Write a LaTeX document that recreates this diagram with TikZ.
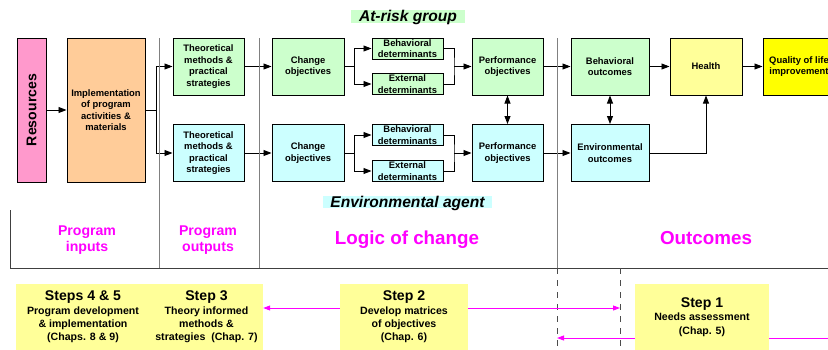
\documentclass[tikz,border=0pt]{standalone}
\usepackage{fontspec}
\setmainfont{Liberation Sans}
\usetikzlibrary{arrows.meta}

\definecolor{pinkfill}{HTML}{FF99CC}
\definecolor{orangefill}{HTML}{FFCC99}
\definecolor{greenfill}{HTML}{CCFFCC}
\definecolor{cyanfill}{HTML}{CCFFFF}
\definecolor{paleyellow}{HTML}{FFFF99}
\definecolor{brightyellow}{HTML}{FFFF00}
\definecolor{phasepink}{HTML}{FF00FF}
\definecolor{divider}{HTML}{808080}

\begin{document}
\begin{tikzpicture}[x=1pt, y=-1pt,
  box/.style={draw, rectangle, line width=1pt, align=center, inner sep=1pt, font=\fontsize{9.4}{11.4}\selectfont\bfseries},
  bigbox/.style={box, minimum width=72pt, minimum height=57pt},
  detbox/.style={box, minimum width=71pt, minimum height=21pt},
  wire/.style={line width=0.9pt},
  flow/.style={wire, -{Triangle[length=8pt,width=6pt]}},
  both/.style={wire, {Triangle[length=8pt,width=6pt]}-{Triangle[length=8pt,width=6pt]}},
  stepbox/.style={fill=paleyellow, align=center, inner sep=0pt, minimum height=66pt, font=\fontsize{10.6}{13.3}\selectfont\bfseries},
  steparrow/.style={phasepink, line width=0.9pt, -{Triangle[length=7pt,width=5pt]}},
  phase/.style={text=phasepink, align=center, font=\fontsize{14.1}{16.7}\selectfont\bfseries},
  group/.style={inner xsep=8pt, inner ysep=0pt, anchor=base, font=\fontsize{15.6}{18}\selectfont\bfseries\itshape}]
\useasboundingbox (0,0) rectangle (828,349);
\clip (0,0) rectangle (828,349);

\node (resources) [box, fill=pinkfill, rotate=90, minimum width=144pt, minimum height=29pt, font=\fontsize{14.1}{16}\selectfont\bfseries] at (31.5,110) {Resources};
\node (impl) [box, fill=orangefill, minimum width=78pt, minimum height=144pt] at (106,110) {Implementation\\of program\\activities \&\\materials};
\node (theo1) [bigbox, fill=greenfill, minimum width=71pt] at (208.5,66.5) {Theoretical\\methods \&\\practical\\strategies};
\node (theo2) [bigbox, fill=cyanfill, minimum width=71pt] at (208.5,153) {Theoretical\\methods \&\\practical\\strategies};
\node (change1) [bigbox, fill=greenfill] at (308,66.5) {Change\\objectives};
\node (change2) [bigbox, fill=cyanfill] at (308,153) {Change\\objectives};
\node (beh1) [detbox, fill=greenfill] at (407.5,48.5) {Behavioral\\determinants};
\node (ext1) [detbox, fill=greenfill] at (407.5,84) {External\\determinants};
\node (beh2) [detbox, fill=cyanfill] at (407.5,135) {Behavioral\\determinants};
\node (ext2) [detbox, fill=cyanfill] at (407.5,171) {External\\determinants};
\node (perf1) [bigbox, fill=greenfill, minimum width=71pt] at (507.5,66.5) {Performance\\objectives};
\node (perf2) [bigbox, fill=cyanfill, minimum width=71pt] at (507.5,153) {Performance\\objectives};
\node (behout) [bigbox, fill=greenfill, minimum width=78pt] at (610,66.5) {Behavioral\\outcomes};
\node (envout) [bigbox, fill=cyanfill, minimum width=78pt] at (610,153) {Environmental\\outcomes};
\node (health) [bigbox, fill=paleyellow] at (706,66.5) {Health};
\node (quality) [bigbox, fill=brightyellow] at (799,66.5) {Quality of life\\improvement};

\draw[flow] (resources) -- (impl);
\draw[flow] (impl.east) -- ++(11,0) |- (theo1.west);
\draw[flow] (impl.east) -- ++(11,0) |- (theo2.west);
\draw[flow] (theo1) -- (change1);
\draw[flow] (theo2) -- (change2);
\draw[flow] (change1.east) -- ++(10,0) |- (beh1.west);
\draw[flow] (change1.east) -- ++(10,0) |- (ext1.west);
\draw[flow] (change2.east) -- ++(10,0) |- (beh2.west);
\draw[flow] (change2.east) -- ++(10,0) |- (ext2.west);
\coordinate (merge1) at (454,66.5);
\coordinate (merge2) at (454,153);
\draw[wire] (beh1.east) -| (merge1) |- (ext1.east);
\draw[wire] (beh2.east) -| (merge2) |- (ext2.east);
\draw[flow] (merge1) -- (perf1);
\draw[flow] (merge2) -- (perf2);
\draw[both] (perf1) -- (perf2);
\draw[flow] (perf1) -- (behout);
\draw[flow] (perf2) -- (envout);
\draw[both] (behout) -- (envout);
\draw[flow] (behout) -- (health);
\draw[flow] (health) -- (quality);
\draw[flow] (envout.east) -| (health.south);

\draw[divider, line width=1pt] (159,38) -- (159,268);
\draw[divider, line width=1pt] (259,38) -- (259,268);
\draw[divider, line width=1pt] (557,38) -- (557,268);
\draw[black!75, line width=1pt] (10,210) -- (10,268) -- (828,268);
\draw[black!70, line width=0.9pt, dash pattern=on 6pt off 6pt] (557,268) -- (557,349);
\draw[black!70, line width=0.9pt, dash pattern=on 6pt off 6pt] (620,268) -- (620,349);

\node (atrisk) [group, fill=greenfill, text height=11.5pt, text depth=1.5pt] at (408,21.5) {At-risk group};
\node (envagent) [group, fill=cyanfill, text height=11pt, text depth=1pt, inner xsep=7.5pt] at (407.5,207) {Environmental agent};

\node (inputs) [phase] at (87,240) {Program\\inputs};
\node (outputs) [phase] at (208,240) {Program\\outputs};
\node (logic) [phase, anchor=base, font=\fontsize{18.8}{22}\selectfont\bfseries] at (407,244) {Logic of change};
\node (outcomes) [phase, anchor=base, font=\fontsize{18.8}{22}\selectfont\bfseries] at (706,244) {Outcomes};

\node (step45) [stepbox, minimum width=134pt] at (83,317) {{\fontsize{14.1}{16}\selectfont Steps 4 \& 5}\\Program development\\\& implementation\\(Chaps. 8 \& 9)};
\node (step3) [stepbox, minimum width=113pt] at (206.5,317) {{\fontsize{14.1}{16}\selectfont Step 3}\\Theory informed\\methods \&\\strategies\ \ (Chap. 7)};
\node (step2) [stepbox, minimum width=128pt] at (404,317) {{\fontsize{14.1}{16}\selectfont Step 2}\\Develop matrices\\of objectives\\(Chap. 6)};
\node (step1) [stepbox, minimum width=134pt] at (702,317) {{\fontsize{14.1}{16}\selectfont Step 1}\\Needs assessment\\(Chap. 5)};

\coordinate (dashB) at (620,308);
\coordinate (dashA) at (557,338);
\coordinate (edge) at (828,338);
\draw[steparrow] ([yshift=9pt]step2.west) -- ([yshift=9pt]step3.east);
\draw[steparrow] ([yshift=9pt]step2.east) -- (dashB);
\draw[phasepink, line width=0.9pt] (edge) -- ([yshift=-21pt]step1.east);
\draw[steparrow] ([yshift=-21pt]step1.west) -- (dashA);
\end{tikzpicture}
\end{document}
